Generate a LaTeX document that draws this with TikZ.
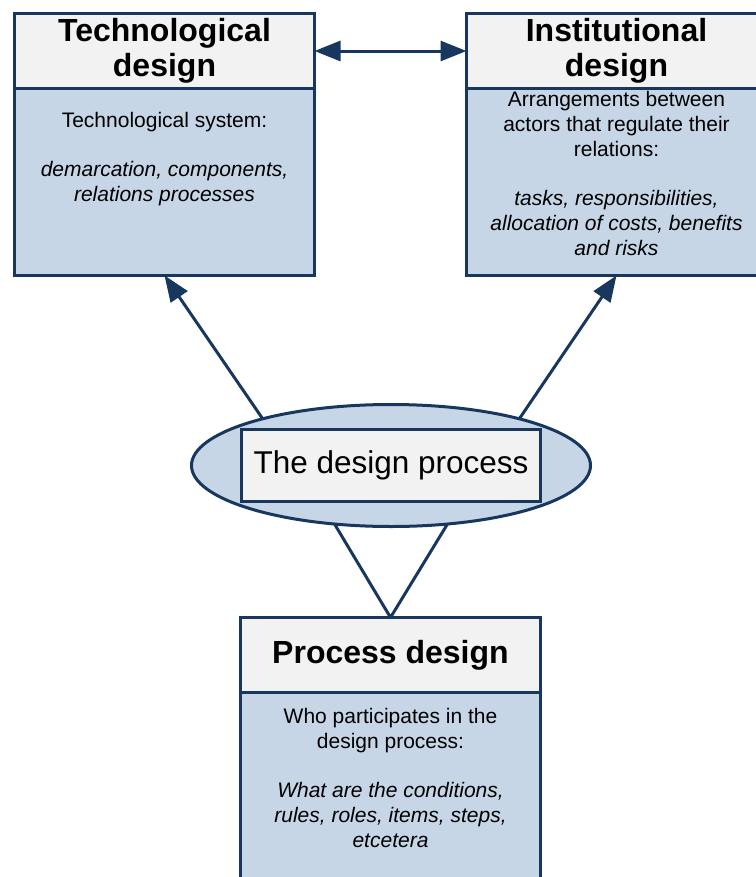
\documentclass[tikz,border=0pt]{standalone}
\usepackage{fontspec}
\setmainfont{Liberation Sans}
\usetikzlibrary{positioning,shapes.geometric,arrows.meta}
\definecolor{frameblue}{RGB}{23,55,94}
\definecolor{bodyblue}{RGB}{199,214,230}
\definecolor{headgrey}{RGB}{242,242,242}

\begin{document}
\begin{tikzpicture}[x=1bp,y=-1bp,
	head/.style={draw=frameblue, fill=headgrey, line width=3bp, minimum width=300bp, minimum height=75bp, inner sep=0pt, outer sep=0pt, align=center, font=\fontsize{32bp}{35bp}\selectfont\bfseries},
	body/.style={draw=frameblue, fill=bodyblue, line width=3bp, minimum width=300bp, inner sep=0pt, outer sep=0pt},
	txt/.style={align=center, inner sep=0pt, font=\fontsize{21bp}{25bp}\selectfont},
	link/.style={draw=frameblue, line width=3bp, line join=round},
	arr/.style={-{Triangle[length=26bp,width=20bp]}},
	arrboth/.style={{Triangle[length=26bp,width=20bp]}-{Triangle[length=26bp,width=20bp]}}
]

	\useasboundingbox (0,0) rectangle (756,877);
	\clip (0,0) rectangle (756,877);

	% technological design
	\node[head] (techhead) at (164.5,51) {Technological\\design};
	\node[body, minimum height=187bp, below=0pt of techhead] (techbody) {};
	\node[txt, below=24bp of techhead] (techtxt) {Technological system:\\[24bp]\textit{demarcation, components,}\\\textit{relations processes}};

	% institutional design
	\node[head] (insthead) at (616.5,51) {Institutional\\design};
	\node[body, minimum height=187bp, below=0pt of insthead] (instbody) {};
	\node[txt, below=3bp of insthead] (insttxt) {Arrangements between\\actors that regulate their\\relations:\\[24bp]\textit{tasks, responsibilities,}\\\textit{allocation of costs, benefits}\\\textit{and risks}};

	% the design process
	\node[ellipse, draw=frameblue, fill=bodyblue, line width=3bp, minimum width=399bp, minimum height=122bp, inner sep=0pt, outer sep=0pt] (proc) at (391,465.5) {};
	\node[head, minimum width=299bp, minimum height=72bp, font=\fontsize{31.5bp}{33bp}\selectfont] (procname) at (391,465.5) {The design process};

	% process design
	\node[head] (prochead) at (390.5,655) {Process design};
	\node[body, minimum height=240bp, below=0pt of prochead] (procbody) {};
	\node[txt, below=16bp of prochead] (proctxt) {Who participates in the\\design process:\\[24bp]\textit{What are the conditions,}\\\textit{rules, roles, items, steps,}\\\textit{etcetera}};

	% connectors
	\draw[link, arrboth] (techhead) -- (insthead);
	\draw[link, arr] (proc.160) -- (techbody.south);
	\draw[link, arr] (proc.20) -- (instbody.south);
	\draw[link] (proc.226) -- (prochead.north) -- (proc.314);

\end{tikzpicture}
\end{document}
